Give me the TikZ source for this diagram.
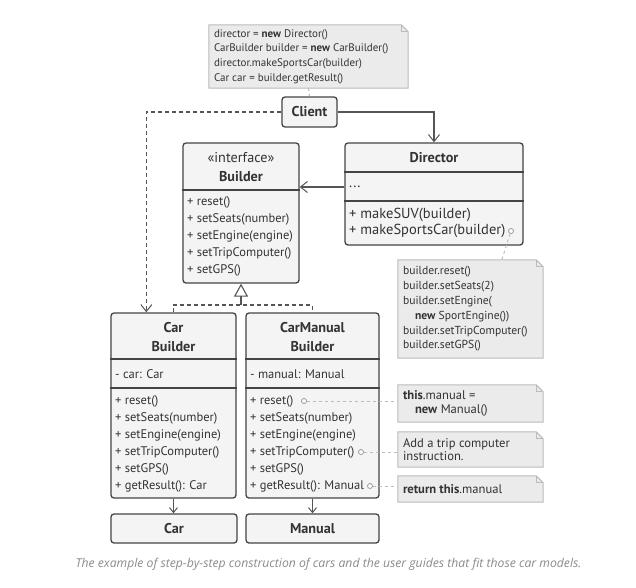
\documentclass[tikz,border=0pt]{standalone}
\usepackage{fontspec}
\setmainfont{PT Sans}
\newfontfamily\capfont{Open Sans}
\usetikzlibrary{arrows.meta,calc,fit}

\definecolor{ink}{HTML}{333333}
\definecolor{edge}{HTML}{444444}
\definecolor{boxfill}{HTML}{F4F4F4}
\definecolor{notefill}{HTML}{EBEBEB}
\definecolor{noteedge}{HTML}{BBBBBB}
\definecolor{wirec}{HTML}{555555}
\definecolor{capgrey}{HTML}{8A8A8A}

% folded-corner outline around a fitted note area
\newcommand\foldnote[1]{%
  \filldraw[memobody] (#1.north west) -- ([xshift=-7pt]#1.north east)
    -- ([yshift=-7pt]#1.north east) -- (#1.south east) -- (#1.south west) -- cycle;
  \draw[memobody, fill=none] ([xshift=-7pt]#1.north east)
    -- ([xshift=-7pt,yshift=-7pt]#1.north east) -- ([yshift=-7pt]#1.north east);}

\begin{document}
\begin{tikzpicture}[x=1pt,y=-1pt,
  classbox/.style={draw=edge, fill=boxfill, line width=1.3pt, rounded corners=3pt, inner sep=0pt},
  area/.style={inner sep=0pt},
  title/.style={font=\fontsize{14.2}{18.5}\selectfont\bfseries, text=ink, align=center, inner sep=0pt},
  members/.style={font=\fontsize{12.5}{17}\selectfont, text=ink, align=left, anchor=west, inner xsep=4pt, inner ysep=0pt},
  bigmembers/.style={members, font=\fontsize{14.5}{16.5}\selectfont},
  divider/.style={draw=edge, line width=1.3pt},
  wire/.style={draw=wirec, line width=1.3pt},
  vee/.style={-{Straight Barb[length=7pt,width=11pt,line width=1pt]}},
  smallvee/.style={-{Straight Barb[length=5pt,width=8pt,line width=1pt]}},
  dashwire/.style={wire, dash pattern=on 4pt off 3pt},
  memobody/.style={fill=notefill, draw=noteedge, line width=1pt},
  memotext/.style={text=ink, align=left, anchor=west, inner xsep=5pt, inner ysep=0pt, font=\fontsize{11.6}{14.8}\selectfont},
  memotextbig/.style={memotext, font=\fontsize{12.6}{13.8}\selectfont},
  hint/.style={draw=noteedge, line width=1pt, dash pattern=on 3pt off 3pt},
  pin/.style={circle, draw=gray!80, fill=white, line width=0.8pt, minimum size=5pt, inner sep=0pt}]
\useasboundingbox (0,0) rectangle (636,587);

% ---------- Client and its code note ----------
\node[area, fit={(209,25) (408,88)}] (n0) {};
\foldnote{n0}
\node[memotext, font=\fontsize{11}{14.7}\selectfont] (n0t) at (n0.west) {director = \textbf{new} Director()\\
  CarBuilder builder = \textbf{new} CarBuilder()\\
  director.makeSportsCar(builder)\\
  Car car = builder.getResult()};

\node[classbox, fit={(282,97) (337,127)}] (client) {};
\node[title] (clientT) at (client.center) {Client};
\draw[hint] (n0.south) -- (client.north);

% ---------- Builder interface ----------
\node[classbox, fit={(183,143) (299,283)}] (builder) {};
\draw[divider] (builder.west |- 0,190) -- (builder.east |- 0,190);
\node[title] (builderT) at (241,167) {\mdseries «interface»\\Builder};
\node[members] (builderM) at (183,236.5) {+ reset()\\+ setSeats(number)\\+ setEngine(engine)\\+ setTripComputer()\\+ setGPS()};

% ---------- Director ----------
\node[classbox, fit={(345,143) (523,245)}] (director) {};
\draw[divider] (director.west |- 0,172) -- (director.east |- 0,172);
\draw[divider] (director.west |- 0,201) -- (director.east |- 0,201);
\node[title] (directorT) at (434,157.5) {Director};
\node[bigmembers] (directorA) at (345,187) {...};
\node[bigmembers] (directorM) at (345,223) {+ makeSUV(builder)\\+ makeSportsCar(builder)};

% ---------- Concrete builders ----------
\node[classbox, fit={(111,313) (236,498)}] (carb) {};
\draw[divider] (carb.west |- 0,359) -- (carb.east |- 0,359);
\draw[divider] (carb.west |- 0,388) -- (carb.east |- 0,388);
\node[title] (carbT) at (173.5,337) {Car\\Builder};
\node[members] (carbA) at (111,374) {- car: Car};
\node[members] (carbM) at (111,443.5) {+ reset()\\+ setSeats(number)\\+ setEngine(engine)\\+ setTripComputer()\\+ setGPS()\\+ getResult(): Car};

\node[classbox, fit={(246,313) (379,498)}] (cmb) {};
\draw[divider] (cmb.west |- 0,359) -- (cmb.east |- 0,359);
\draw[divider] (cmb.west |- 0,388) -- (cmb.east |- 0,388);
\node[title] (cmbT) at (312.5,337) {CarManual\\Builder};
\node[members] (cmbA) at (246,374) {- manual: Manual};
\node[members] (cmbM) at (246,443.5) {+ reset()\\+ setSeats(number)\\+ setEngine(engine)\\+ setTripComputer()\\+ setGPS()\\+ getResult(): Manual};

% ---------- Products ----------
\node[classbox, fit={(111,514) (237,543)}] (car) {};
\node[title] (carT) at (car.center) {Car};
\node[classbox, fit={(246,514) (379,543)}] (manual) {};
\node[title] (manualT) at (manual.center) {Manual};

% ---------- Notes on the right ----------
\node[area, fit={(398,260) (543,358)}] (n1) {};
\foldnote{n1}
\node[memotext] (n1t) at (n1.west) {builder.reset()\\builder.setSeats(2)\\builder.setEngine(\\
  \hspace*{12pt}\textbf{new} SportEngine())\\builder.setTripComputer()\\builder.setGPS()};

\node[area, fit={(398,385) (543,422)}] (n2) {};
\foldnote{n2}
\node[memotextbig] (n2t) at (n2.west) {\textbf{this}.manual =\\\hspace*{12pt}\textbf{new} Manual()};

\node[area, fit={(398,432) (543,467)}] (n3) {};
\foldnote{n3}
\node[memotextbig] (n3t) at (n3.west) {Add a trip computer\\instruction.};

\node[area, fit={(398,476) (543,502)}] (n4) {};
\foldnote{n4}
\node[memotextbig] (n4t) at (n4.west) {\textbf{return this}.manual};

% ---------- Pins and note links ----------
\node[pin] (p0) at (511,231) {};
\node[pin] (p1) at (304,401) {};
\node[pin] (p2) at (361,452) {};
\node[pin] (p3) at (370,486) {};
\draw[hint] (p0) -- ($(n1.north west)+(104,0)$);
\draw[hint] (p1) -- (n2.west |- p1);
\draw[hint] (p2) -- (n3.west |- p2);
\draw[hint] (p3) -- (n4.west |- p3);

% ---------- Relations ----------
\draw[wire, vee] (client.east) -| (director.north);
\draw[dashwire, vee] (client.west) -| ($(carb.north west)+(36,0)$);
\draw[wire, vee] ($(director.west)+(0,-7)$) -- ($(builder.east)+(0,-26)$);
\coordinate (joint) at (builder.south |- 0,305);
\draw[dashwire] (carb.north) |- (joint) -| (cmb.north);
\draw[wire, -{Triangle[open,length=13pt,width=14pt,line width=1.1pt,fill=white]}] (joint) -- (builder.south);
\draw[wire, smallvee] (carb.south) -- (carb.south |- car.north);
\draw[wire, smallvee] (cmb.south) -- (cmb.south |- manual.north);

% ---------- Caption ----------
\node[font=\capfont\itshape\fontsize{12.2}{14}\selectfont, text=capgrey, inner sep=0pt] (caption) at (328.5,564)
  {The example of step-by-step construction of cars and the user guides that fit those car models.};
\end{tikzpicture}
\end{document}
